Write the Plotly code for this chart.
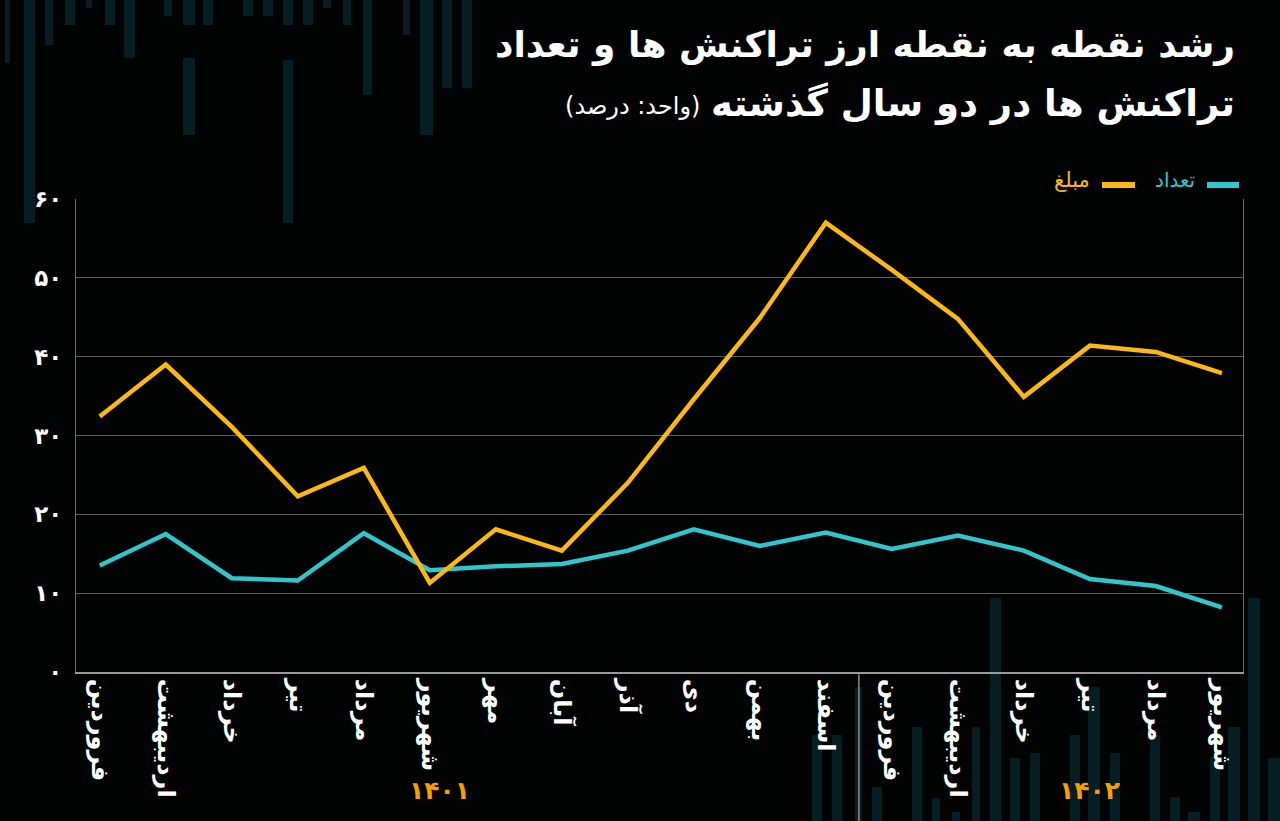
import plotly.graph_objects as go

# month labels along the x axis (two Persian years)
months = ["فروردین", "اردیبهشت", "خرداد", "تیر", "مرداد", "شهریور", "مهر", "آبان", "آذر", "دی", "بهمن", "اسفند",
          "فروردین", "اردیبهشت", "خرداد", "تیر", "مرداد", "شهریور"]
years = ["۱۴۰۱", "۱۴۰۲"]

# growth of transaction amount (مبلغ) and count (تعداد), percent
amount = [32.4, 39.0, 31.1, 22.3, 25.9, 11.3, 18.1, 15.4, 24.0, 34.6, 44.9, 57.0,
          51.0, 44.8, 34.9, 41.4, 40.6, 37.9]
count = [13.5, 17.5, 11.9, 11.6, 17.6, 12.9, 13.4, 13.7, 15.4, 18.1, 16.0, 17.7,
         15.6, 17.3, 15.4, 11.8, 10.9, 8.2]

y_ticks = [0, 10, 20, 30, 40, 50, 60]
y_tick_text = ["۰", "۱۰", "۲۰", "۳۰", "۴۰", "۵۰", "۶۰"]

W, H = 1280, 821
L, R, T, B = 76, 37, 199, 149
PW, PH = W - L - R, H - T - B

YELLOW = "#fdb813"
CYAN = "#31c6cc"
FONT = "DejaVu Sans"


def px(x):
    return (x - L) / PW


def py(y):
    return (H - B - y) / PH


# faint background bars (decoration only), pixel boxes x0, x1, y0, y1
deco = [(5, 10, 0, 63), (24, 35, 0, 223), (45, 53, 0, 45), (65, 75, 0, 25), (86, 92, 0, 8),
        (105, 115, 0, 25), (124, 135, 0, 58), (164, 172, 0, 16), (183, 195, 0, 25), (183, 195, 58, 135),
        (203, 213, 0, 25), (243, 253, 0, 16), (263, 273, 0, 16), (283, 293, 0, 25), (283, 293, 60, 223),
        (303, 313, 0, 25), (323, 331, 0, 8), (343, 351, 0, 25), (363, 372, 0, 95), (403, 410, 0, 35),
        (420, 433, 0, 135), (442, 452, 0, 88), (462, 472, 0, 88),
        (812, 822, 735, 821), (832, 842, 735, 821), (855, 862, 687, 821), (872, 882, 787, 821),
        (912, 922, 727, 821), (932, 940, 798, 821), (952, 960, 812, 821), (972, 980, 727, 821),
        (990, 1001, 598, 821), (1010, 1020, 758, 821), (1030, 1040, 753, 821), (1070, 1080, 735, 821),
        (1088, 1100, 687, 821), (1110, 1120, 753, 821), (1150, 1160, 735, 821), (1170, 1180, 797, 821),
        (1188, 1200, 812, 821), (1210, 1220, 757, 821), (1228, 1240, 727, 821), (1248, 1260, 598, 821),
        (1268, 1280, 758, 821)]

x_idx = list(range(len(months)))

fig = go.Figure()
fig.add_trace(go.Scatter(x=x_idx, y=count, mode="lines", name="تعداد",
                         line=dict(color=CYAN, width=4.5)))
fig.add_trace(go.Scatter(x=x_idx, y=amount, mode="lines", name="مبلغ",
                         line=dict(color=YELLOW, width=4.5)))

shapes = []
for x0, x1, y0, y1 in deco:
    shapes.append(dict(type="rect", xref="paper", yref="paper", x0=px(x0), x1=px(x1), y0=py(y1), y1=py(y0),
                       fillcolor="#061d24", line=dict(width=0), layer="below"))

# separator between the two years
shapes.append(dict(type="line", xref="x", yref="paper", x0=11.5, x1=11.5, y0=-0.005, y1=py(H),
                   line=dict(color="#8a8a8a", width=1.5)))

# legend swatches
shapes.append(dict(type="line", xref="paper", yref="paper", x0=px(1207), x1=px(1239), y0=py(185), y1=py(185),
                   line=dict(color=CYAN, width=6)))
shapes.append(dict(type="line", xref="paper", yref="paper", x0=px(1102), x1=px(1135), y0=py(185), y1=py(185),
                   line=dict(color=YELLOW, width=6)))

annotations = [
    dict(text="<b>رشد نقطه به نقطه ارز تراکنش ها و تعداد</b>", x=px(1237), y=py(45), xref="paper", yref="paper",
         xanchor="right", yanchor="middle", showarrow=False, font=dict(family=FONT, size=36, color="white")),
    dict(text="<b>تراکنش ها در دو سال گذشته</b>", x=px(1237), y=py(104), xref="paper", yref="paper",
         xanchor="right", yanchor="middle", showarrow=False, font=dict(family=FONT, size=37, color="white")),
    dict(text="(واحد: درصد)", x=px(702), y=py(106), xref="paper", yref="paper",
         xanchor="right", yanchor="middle", showarrow=False, font=dict(family=FONT, size=24, color="white")),
    dict(text="تعداد", x=px(1197), y=py(180), xref="paper", yref="paper",
         xanchor="right", yanchor="middle", showarrow=False, font=dict(family=FONT, size=20, color=CYAN)),
    dict(text="مبلغ", x=px(1092), y=py(180), xref="paper", yref="paper",
         xanchor="right", yanchor="middle", showarrow=False, font=dict(family=FONT, size=21, color=YELLOW)),
    dict(text="<b>" + years[0] + "</b>", x=5.15, y=py(790), xref="x", yref="paper",
         xanchor="center", yanchor="middle", showarrow=False, font=dict(family=FONT, size=25, color="#f5a000")),
    dict(text="<b>" + years[1] + "</b>", x=15.0, y=py(790), xref="x", yref="paper",
         xanchor="center", yanchor="middle", showarrow=False, font=dict(family=FONT, size=25, color="#f5a000")),
]

fig.update_layout(
    width=W, height=H,
    margin=dict(l=L, r=R, t=T, b=B),
    paper_bgcolor="#020303", plot_bgcolor="rgba(0,0,0,0)",
    showlegend=False,
    shapes=shapes,
    annotations=annotations,
    xaxis=dict(range=[-0.36, 17.32], tickmode="array", tickvals=x_idx,
               ticktext=["<b>" + m + "</b>" for m in months], tickangle=90,
               tickfont=dict(family=FONT, size=24, color="white"), showgrid=False, zeroline=False,
               showline=True, linecolor="#9a9a9a", linewidth=2, ticks=""),
    yaxis=dict(range=[0, 60], tickmode="array", tickvals=y_ticks,
               ticktext=["<b>" + t + "</b>" for t in y_tick_text],
               tickfont=dict(family=FONT, size=23, color="white"), gridcolor="#5e5e5e", gridwidth=1,
               zeroline=False, showline=True, linecolor="#6e6e6e", linewidth=1, mirror=True, ticks="",
               ticklabelstandoff=8),
)

fig.write_html("out.html", config={"displayModeBar": False},
               post_script="document.body.style.margin='0';document.body.style.background='#020303';")
